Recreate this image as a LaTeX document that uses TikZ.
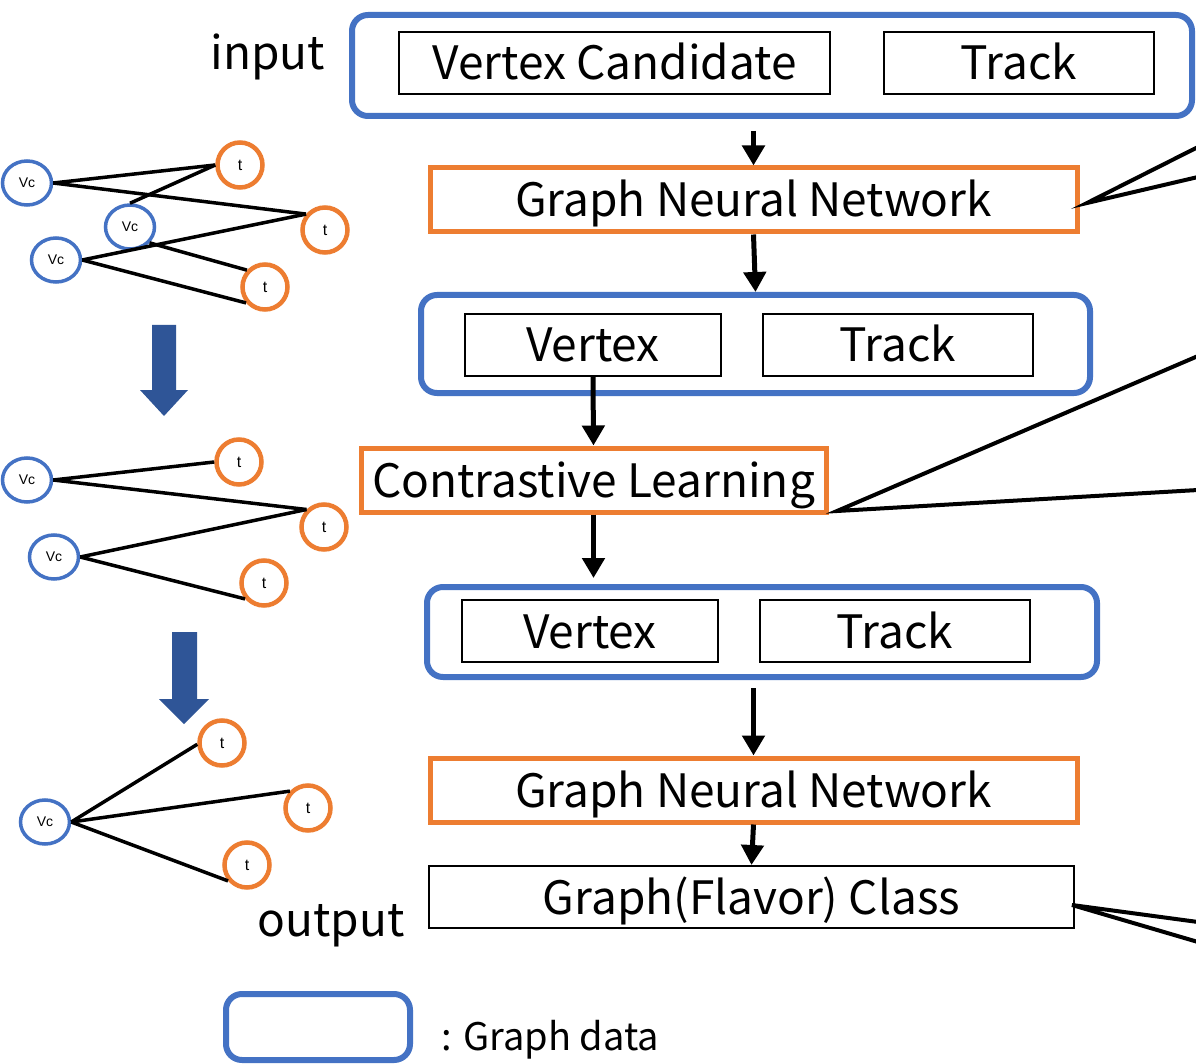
\documentclass[tikz,border=0pt]{standalone}
\usepackage{fontspec}
\setmainfont{Noto Sans CJK JP}
\newfontfamily\arialf{Liberation Sans}
\usetikzlibrary{shapes.geometric,arrows.meta}
\definecolor{gblue}{HTML}{4472C4}
\definecolor{gorange}{HTML}{ED7D31}
\definecolor{darrow}{HTML}{2F5597}
\begin{document}
\begin{tikzpicture}[x=1pt,y=-1pt,
  bigtxt/.style={font=\fontsize{46}{54}\selectfont,text height=34pt,text depth=0pt},
  graphbox/.style={draw=gblue,line width=6pt,rounded corners=16pt,inner sep=0pt},
  procbox/.style={draw=gorange,line width=5pt,inner sep=0pt,bigtxt},
  itembox/.style={draw=black,line width=2pt,inner sep=0pt,bigtxt},
  arr/.style={line width=5pt,-{Triangle[width=22pt,length=20pt]}},
  vc/.style={ellipse,draw=gblue,line width=3.5pt,minimum width=49pt,minimum height=44pt,inner sep=0pt,font=\arialf\fontsize{14}{16}\selectfont},
  tn/.style={circle,draw=gorange,line width=4.5pt,minimum size=45pt,inner sep=0pt,font=\arialf\fontsize{16}{18}\selectfont},
  edge/.style={line width=3.5pt},
  callout/.style={line width=4pt,line join=miter},
  bigarrow/.style={fill=darrow,draw=none}
]
\useasboundingbox (0,0) rectangle (1196,1064);
\fill[white] (0,0) rectangle (1196,1064);

% main flow
\node[graphbox,minimum width=840pt,minimum height=101pt] (in) at (772,65.5) {};
\node[itembox,minimum width=431pt,minimum height=62pt] (vcand) at (614.5,63) {Vertex Candidate};
\node[itembox,minimum width=270pt,minimum height=62pt] (trk1) at (1019,63) {Track};
\node[bigtxt] (inlbl) at (268,53) {input};

\node[procbox,minimum width=647pt,minimum height=64pt] (gnn1) at (753.5,200) {Graph Neural Network};

\node[graphbox,minimum width=669pt,minimum height=98pt] (g2) at (755.5,344) {};
\node[itembox,minimum width=256pt,minimum height=62pt] (vtx2) at (593,345) {Vertex};
\node[itembox,minimum width=270pt,minimum height=62pt] (trk2) at (898,345) {Track};

\node[procbox,minimum width=465pt,minimum height=64pt] (cl) at (593.5,480) {Contrastive Learning};

\node[graphbox,minimum width=670pt,minimum height=90pt] (g3) at (762,632) {};
\node[itembox,minimum width=256pt,minimum height=62pt] (vtx3) at (590,631) {Vertex};
\node[itembox,minimum width=270pt,minimum height=62pt] (trk3) at (895,631) {Track};

\node[procbox,minimum width=647pt,minimum height=64pt] (gnn2) at (753.5,790) {Graph Neural Network};

\node[itembox,minimum width=645pt,minimum height=62pt] (outb) at (751.5,897) {Graph(Flavor) Class};
\node[bigtxt] (outlbl) at (331,919) {output};

% legend
\node[graphbox,minimum width=184pt,minimum height=66pt] (leg) at (318,1027) {};
\node[font=\fontsize{38}{44}\selectfont,text height=27pt,text depth=0pt,anchor=west] (legt) at (438,1037) {: Graph data};

% flow arrows
\draw[arr,shorten <=12pt] (gnn1.north |- in.south) -- (gnn1.north);
\draw[arr] (gnn1.south) -- (g2.north);
\draw[arr] (vtx2.south) -- (cl.north);
\draw[arr,shorten >=6pt] (cl.south) -- (cl.south |- g3.north);
\draw[arr,shorten <=8pt] (gnn2.north |- g3.south) -- (gnn2.north);
\draw[arr] (gnn2.south) -- (outb.north);

% callouts
\coordinate (c1) at (1087,203);
\coordinate (c1a) at (1198,147);
\coordinate (c1b) at (1198,177);
\draw[callout] (c1a) -- (c1) -- (c1b);
\coordinate (c2) at (837,511);
\coordinate (c2a) at (1198,356);
\coordinate (c2b) at (1198,490);
\draw[callout] (c2a) -- (c2) -- (c2b);
\coordinate (c3) at (1072,905);
\coordinate (c3a) at (1198,922);
\coordinate (c3b) at (1198,942);
\draw[callout] (c3a) -- (c3) -- (c3b);

% graph 1
\node[vc] (a1) at (27,183) {Vc};
\node[vc] (a2) at (130,227) {Vc};
\node[vc] (a3) at (56,260) {Vc};
\node[tn] (at1) at (240,165) {t};
\node[tn] (at2) at (325,230) {t};
\node[tn] (at3) at (265,287) {t};
\draw[edge] (a1.east) -- (at1.west);
\draw[edge] (a1.east) -- (at2.140);
\draw[edge] (a2.north) -- (at1.west);
\draw[edge] (a2.321) -- (at3.137);
\draw[edge] (a3.east) -- (at2.140);
\draw[edge] (a3.east) -- (at3.220);

% big arrow 1
\fill[bigarrow] (152,325) -- (176,325) -- (176,390) -- (188,390) -- (164,416) -- (140,390) -- (152,390) -- cycle;

% graph 2
\node[vc] (b1) at (27,480) {Vc};
\node[vc] (b2) at (54,557) {Vc};
\node[tn] (bt1) at (239,462) {t};
\node[tn] (bt2) at (324,527) {t};
\node[tn] (bt3) at (264,583) {t};
\draw[edge] (b1.east) -- (bt1.west);
\draw[edge] (b1.east) -- (bt2.135);
\draw[edge] (b2.east) -- (bt2.135);
\draw[edge] (b2.east) -- (bt3.220);

% big arrow 2
\fill[bigarrow] (172,632) -- (197,632) -- (197,699) -- (209,699) -- (184,724) -- (159,699) -- (172,699) -- cycle;

% graph 3
\node[vc] (c0) at (45,822) {Vc};
\node[tn] (ct1) at (222,743) {t};
\node[tn] (ct2) at (308,808) {t};
\node[tn] (ct3) at (247,865) {t};
\draw[edge] (c0.east) -- (ct1.183);
\draw[edge] (c0.east) -- (ct2.137);
\draw[edge] (c0.east) -- (ct3.220);
\end{tikzpicture}
\end{document}
